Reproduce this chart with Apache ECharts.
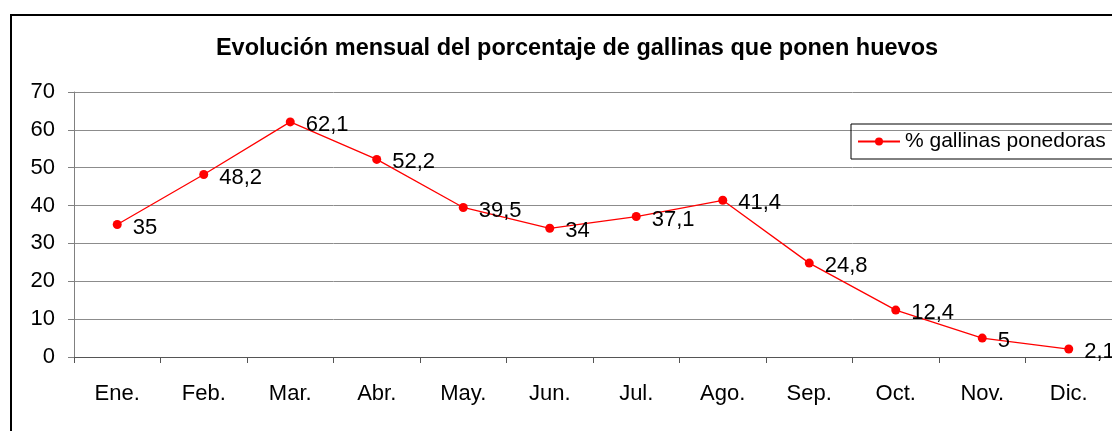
<!DOCTYPE html>
<html>
<head>
<meta charset="utf-8">
<script src="https://cdn.jsdelivr.net/npm/echarts@6/dist/echarts.min.js"></script>
<style>
  html, body { margin: 0; padding: 0; background: #fff; }
  #chart { width: 1112px; height: 431px; }
</style>
</head>
<body>
<div id="chart"></div>
<script>
// meses
const months = ['Ene.', 'Feb.', 'Mar.', 'Abr.', 'May.', 'Jun.', 'Jul.', 'Ago.', 'Sep.', 'Oct.', 'Nov.', 'Dic.']
// % gallinas ponedoras
const layingHens = [35, 48.2, 62.1, 52.2, 39.5, 34, 37.1, 41.4, 24.8, 12.4, 5, 2.1]
const yTicks = [0, 10, 20, 30, 40, 50, 60, 70]

const font = '"Liberation Sans", Arial, sans-serif'
const chart = echarts.init(document.getElementById('chart'))

chart.setOption({
  animation: false,
  textStyle: { fontFamily: font },
  title: {
    text: 'Evolución mensual del porcentaje de gallinas que ponen huevos',
    left: 572,
    textAlign: 'center',
    top: 32,
    textStyle: { fontFamily: font, fontSize: 23.5, fontWeight: 'bold', color: '#000' }
  },
  graphic: [{
    type: 'rect',
    shape: { x: 11, y: 15, width: 1120, height: 440 },
    style: { fill: 'none', stroke: '#000', lineWidth: 2 },
    silent: true
  }],
  legend: {
    left: 851,
    top: 124,
    orient: 'vertical',
    padding: [7, 40, 7, 6],
    borderColor: '#000',
    borderWidth: 1,
    itemWidth: 42,
    itemHeight: 10,
    itemGap: 0,
    textStyle: { fontFamily: font, fontSize: 21, color: '#000' },
    data: ['% gallinas ponedoras']
  },
  grid: {
    left: 74,
    top: 92,
    width: 1040,
    height: 265
  },
  xAxis: {
    type: 'category',
    data: months,
    boundaryGap: true,
    axisLine: { lineStyle: { color: '#555', width: 1 } },
    axisTick: { show: true, length: 6, lineStyle: { color: '#555' } },
    axisLabel: { color: '#000', fontSize: 22, fontFamily: font, margin: 26 }
  },
  yAxis: {
    type: 'value',
    min: yTicks[0],
    max: yTicks[yTicks.length - 1],
    interval: 10,
    axisLine: { show: true, lineStyle: { color: '#808080' } },
    axisTick: { show: true, length: 6, lineStyle: { color: '#808080' } },
    axisLabel: { color: '#000', fontSize: 22, fontFamily: font, margin: 19 },
    splitLine: { lineStyle: { color: '#8c8c8c', width: 1 } }
  },
  series: [{
    name: '% gallinas ponedoras',
    type: 'line',
    data: layingHens,
    symbol: 'circle',
    symbolSize: 9,
    color: '#ff0000',
    lineStyle: { color: '#ff0000', width: 1.3 },
    itemStyle: { color: '#ff0000' },
    label: {
      show: true,
      position: 'right',
      distance: 11,
      offset: [0, 3],
      color: '#000',
      fontSize: 22,
      fontFamily: font,
      formatter: p => String(p.value).replace('.', ',')
    }
  }]
})
</script>
</body>
</html>
